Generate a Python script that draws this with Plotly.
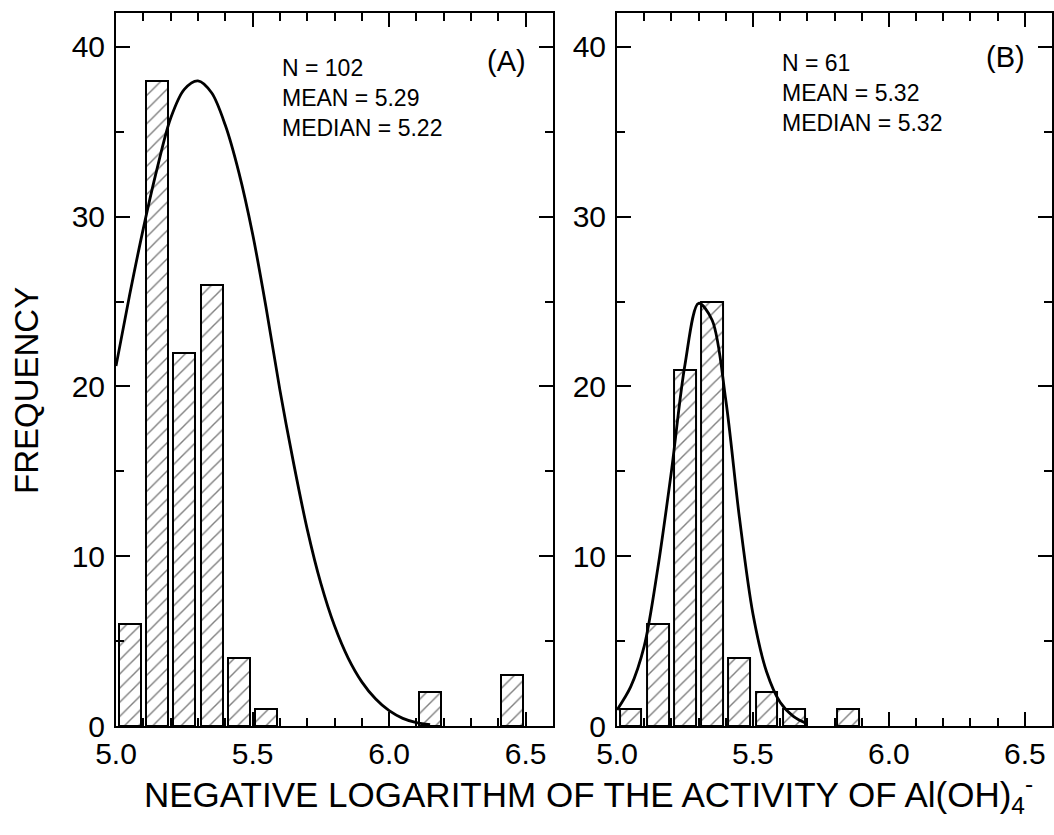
import plotly.graph_objects as go
from plotly.subplots import make_subplots

# ---------------- data ----------------
bins_a = [5.05, 5.15, 5.25, 5.35, 5.45, 5.55, 6.15, 6.45]
freq_a = [6, 38, 22, 26, 4, 1, 2, 3]

bins_b = [5.05, 5.15, 5.25, 5.35, 5.45, 5.55, 5.65, 5.85]
freq_b = [1, 6, 21, 25, 4, 2, 1, 1]

curve_a_x = [5.00, 5.05, 5.10, 5.15, 5.20, 5.25, 5.30, 5.35, 5.40, 5.45, 5.50,
             5.55, 5.60, 5.65, 5.70, 5.75, 5.80, 5.85, 5.90, 5.95, 6.00, 6.05,
             6.10, 6.15]
curve_a_y = [21.2, 25.4, 29.3, 32.8, 35.8, 37.5, 38.0, 37.3, 35.4, 32.6, 29.0,
             24.6, 19.8, 15.5, 11.6, 8.4, 5.9, 4.0, 2.6, 1.6, 0.9, 0.45,
             0.2, 0.08]

curve_b_x = [5.00, 5.05, 5.10, 5.15, 5.20, 5.25, 5.30, 5.35, 5.40, 5.45, 5.50,
             5.55, 5.60, 5.65, 5.70]
curve_b_y = [0.95, 2.3, 4.7, 9.3, 15.0, 21.3, 24.9, 23.9, 19.2, 12.3, 6.6,
             3.2, 1.4, 0.55, 0.12]

stats_a = ["N = 102", "MEAN = 5.29", "MEDIAN = 5.22"]
stats_b = ["N = 61", "MEAN = 5.32", "MEDIAN = 5.32"]
panel_labels = ["(A)", "(B)"]

x_ticks = [5.0, 5.5, 6.0, 6.5]
y_ticks = [0, 10, 20, 30, 40]

FONT = "Liberation Sans, Arial, Helvetica, sans-serif"

fig = make_subplots(rows=1, cols=2, horizontal_spacing=0.07)

for col, (bx, by, cx, cy) in enumerate(
        [(bins_a, freq_a, curve_a_x, curve_a_y),
         (bins_b, freq_b, curve_b_x, curve_b_y)], start=1):
    fig.add_trace(go.Bar(
        x=bx, y=by, width=0.08,
        marker=dict(color="white",
                    line=dict(color="black", width=2),
                    pattern=dict(shape="/", fgcolor="black", bgcolor="white",
                                 size=10, solidity=0.14, fillmode="overlay")),
        showlegend=False), row=1, col=col)
    fig.add_trace(go.Scatter(
        x=cx, y=cy, mode="lines",
        line=dict(color="black", width=2.8, shape="spline", smoothing=0.9),
        showlegend=False), row=1, col=col)

axis_common = dict(
    showline=True, linecolor="black", linewidth=2, mirror="ticks",
    ticks="inside", ticklen=14, tickwidth=2, tickcolor="black",
    showgrid=False, zeroline=False,
    tickfont=dict(family=FONT, size=30, color="black"),
)

for col in (1, 2):
    fig.update_xaxes(range=[5.0, 6.6], tickvals=x_ticks,
                     ticktext=[f"{v:.1f}" for v in x_ticks],
                     minor=dict(dtick=0.1, tick0=5.0, ticks="inside", ticklen=8,
                                tickwidth=2, tickcolor="black"),
                     ticklabelstandoff=0,
                     row=1, col=col, **axis_common)
    fig.update_yaxes(range=[0, 42], tickvals=y_ticks,
                     minor=dict(dtick=5, tick0=0, ticks="inside", ticklen=8,
                                tickwidth=2, tickcolor="black"),
                     ticklabelstandoff=3,
                     row=1, col=col, **axis_common)

fig.update_layout(
    width=1054, height=835,
    margin=dict(l=116, r=2, t=13, b=109, autoexpand=False),
    plot_bgcolor="white", paper_bgcolor="white",
    bargap=0,
    font=dict(family=FONT, color="black"),
)
fig.update_xaxes(domain=[0, 0.4669], row=1, col=1)
fig.update_xaxes(domain=[0.5353, 1.0], row=1, col=2)

annotations = []
for i, line in enumerate(stats_a):
    annotations.append(dict(xref="x", yref="y", x=5.6, y=38.75 - i * 1.77,
                            text=line, showarrow=False, xanchor="left",
                            yanchor="middle",
                            font=dict(family=FONT, size=23, color="black")))
for i, line in enumerate(stats_b):
    annotations.append(dict(xref="x2", yref="y2", x=5.6, y=39.05 - i * 1.77,
                            text=line, showarrow=False, xanchor="left",
                            yanchor="middle",
                            font=dict(family=FONT, size=23, color="black")))
annotations.append(dict(xref="x", yref="y", x=6.43, y=39.2, text=panel_labels[0],
                        showarrow=False, xanchor="center", yanchor="middle",
                        font=dict(family=FONT, size=29, color="black")))
annotations.append(dict(xref="x2", yref="y2", x=6.43, y=39.4, text=panel_labels[1],
                        showarrow=False, xanchor="center", yanchor="middle",
                        font=dict(family=FONT, size=29, color="black")))
annotations.append(dict(xref="paper", yref="paper", x=0.505, y=-0.059,
                        text="NEGATIVE LOGARITHM OF THE ACTIVITY OF Al(OH)<sub>4</sub><sup>-</sup>",
                        showarrow=False, xanchor="center", yanchor="top",
                        font=dict(family=FONT, size=35, color="black")))
annotations.append(dict(xref="paper", yref="paper", x=-0.095, y=0.47,
                        text="FREQUENCY", textangle=-90,
                        showarrow=False, xanchor="center", yanchor="middle",
                        font=dict(family=FONT, size=33, color="black")))
fig.update_layout(annotations=annotations)

fig.write_html("out.html", config={"displayModeBar": False},
               post_script="document.body.style.margin='0';document.body.style.padding='0';")
